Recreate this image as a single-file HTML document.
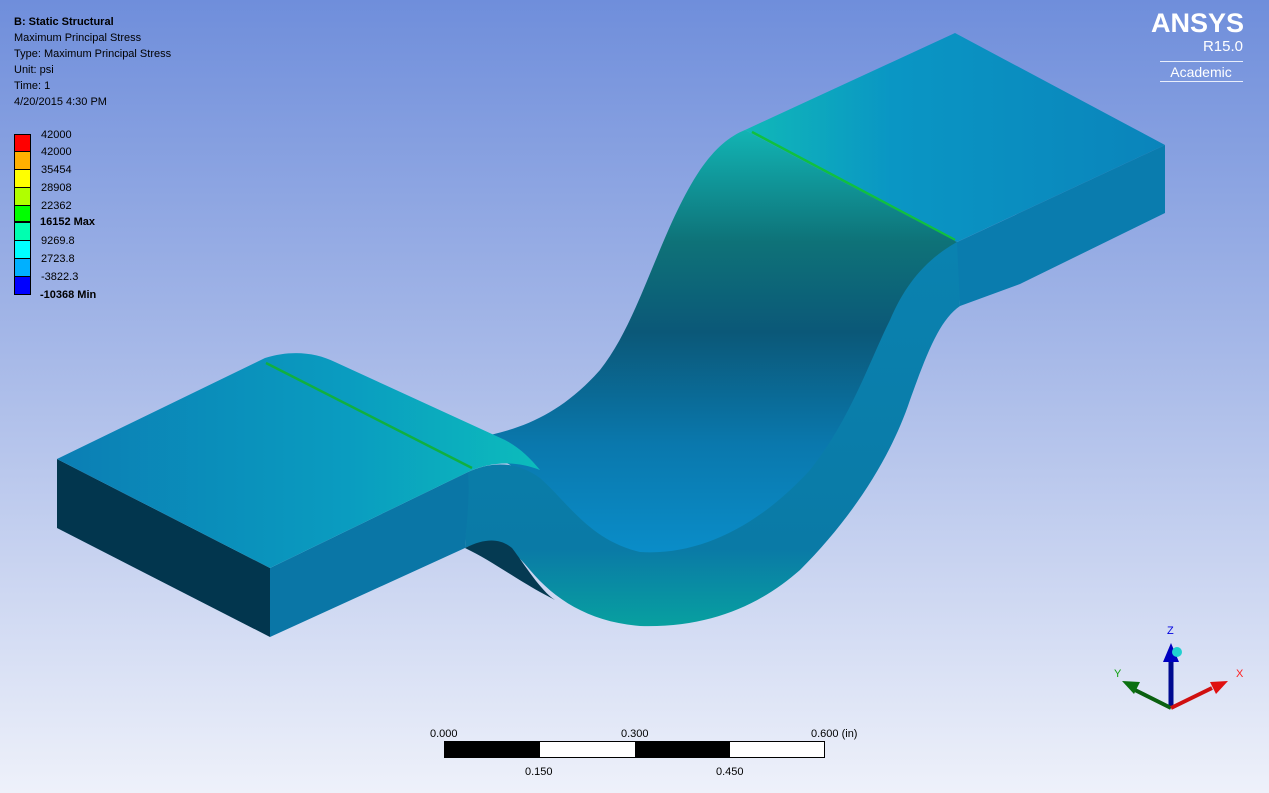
<!DOCTYPE html>
<html><head><meta charset="utf-8"><style>
html,body{margin:0;padding:0;width:1269px;height:793px;overflow:hidden;font-family:"Liberation Sans",sans-serif}
svg{display:block}
</style></head><body>
<svg width="1269" height="793" viewBox="0 0 1269 793">
<defs>
<linearGradient id="bg" x1="0" y1="0" x2="0" y2="1">
<stop offset="0" stop-color="#6f8edb"/><stop offset="0.45" stop-color="#a7b9e8"/><stop offset="1" stop-color="#eef1fa"/></linearGradient>
<linearGradient id="curve" x1="0" y1="0" x2="0" y2="1">
<stop offset="0" stop-color="#12b4b4"/><stop offset="0.25" stop-color="#0e7278"/><stop offset="0.45" stop-color="#0b5878"/><stop offset="0.7" stop-color="#0a78ad"/><stop offset="1" stop-color="#0a92cf"/></linearGradient>
<linearGradient id="band" x1="0" y1="0" x2="0" y2="1">
<stop offset="0" stop-color="#0a82b0"/><stop offset="0.8" stop-color="#0a7aa6"/><stop offset="1" stop-color="#08a0a0"/></linearGradient>
<linearGradient id="ltop" x1="0" y1="0" x2="1" y2="0">
<stop offset="0" stop-color="#0b7eb4"/><stop offset="0.6" stop-color="#0a9cc0"/><stop offset="1" stop-color="#0cbcbc"/></linearGradient>
<linearGradient id="rtop" x1="0" y1="0" x2="1" y2="0">
<stop offset="0" stop-color="#10b8b8"/><stop offset="0.35" stop-color="#0a96c4"/><stop offset="1" stop-color="#0a84bb"/></linearGradient>
</defs>
<rect width="1269" height="793" fill="url(#bg)"/>

<!-- right plate -->
<polygon points="745,130 955,33 1165,145 957,242" fill="url(#rtop)"/>
<polygon points="955,243 1165,145 1165,213 1020,284 960,306" fill="#0a7cae"/>
<line x1="752" y1="132" x2="955" y2="240" stroke="#10c040" stroke-width="2.5"/>

<!-- curved top surface -->
<path d="M475,438 C520,430 560,415 600,370 C640,320 660,230 700,170 C715,148 730,136 745,130 L957,242 C930,262 905,300 885,360 C860,440 810,530 740,565 C700,580 650,585 610,570 C570,545 540,480 505,462 Z" fill="url(#curve)"/>

<!-- front band -->
<path d="M468,472 C490,462 515,460 540,478 C570,505 590,540 640,552 C700,556 760,525 810,470 C850,420 870,360 890,320 C905,285 925,260 957,242 L960,306 C940,320 928,350 910,400 C890,460 850,520 800,570 C760,605 710,628 640,626 C590,622 555,600 530,570 C510,545 490,536 465,548 Z" fill="url(#band)"/>
<path d="M465,548 C485,538 500,538 512,548 C525,565 540,590 555,600 L540,592 C510,575 490,560 465,548 Z" fill="#053a52"/>

<!-- left plate -->
<polygon points="57,459 270,568 270,637 57,528" fill="#02364e"/>
<path d="M270,568 L468,472 C470,500 466,525 465,548 L270,637 Z" fill="#0a76a6"/>
<path d="M57,459 L265,358 C290,350 315,352 335,362 L505,440 C520,448 530,458 540,470 C515,460 490,462 468,472 L270,568 Z" fill="url(#ltop)"/>
<line x1="266" y1="363" x2="472" y2="468" stroke="#10b040" stroke-width="2.5"/>

<!-- title text -->
<g font-size="11" fill="#000">
<text x="14" y="25" font-weight="bold">B: Static Structural</text>
<text x="14" y="41">Maximum Principal Stress</text>
<text x="14" y="57">Type: Maximum Principal Stress</text>
<text x="14" y="73">Unit: psi</text>
<text x="14" y="89">Time: 1</text>
<text x="14" y="105">4/20/2015 4:30 PM</text>
</g>

<!-- legend -->
<g stroke="#000" stroke-width="1">
<rect x="14.5" y="134.5" width="16" height="17" fill="#ff0000"/>
<rect x="14.5" y="151.5" width="16" height="18" fill="#ffb000"/>
<rect x="14.5" y="169.5" width="16" height="18" fill="#ffff00"/>
<rect x="14.5" y="187.5" width="16" height="18" fill="#b0ff00"/>
<rect x="14.5" y="205.5" width="16" height="16" fill="#00ff00"/>
<rect x="14.5" y="221.5" width="16" height="1" fill="#000"/>
<rect x="14.5" y="222.5" width="16" height="18" fill="#00ffb0"/>
<rect x="14.5" y="240.5" width="16" height="18" fill="#00ffff"/>
<rect x="14.5" y="258.5" width="16" height="18" fill="#00b0ff"/>
<rect x="14.5" y="276.5" width="16" height="18" fill="#0000ff"/>
</g>
<g font-size="11" fill="#000">
<text x="41" y="138">42000</text>
<text x="41" y="155">42000</text>
<text x="41" y="173">35454</text>
<text x="41" y="191">28908</text>
<text x="41" y="209">22362</text>
<text x="40" y="225" font-weight="bold">16152 Max</text>
<text x="41" y="244">9269.8</text>
<text x="41" y="262">2723.8</text>
<text x="41" y="280">-3822.3</text>
<text x="40" y="298" font-weight="bold">-10368 Min</text>
</g>

<!-- logo -->
<g fill="#fff">
<text x="1244" y="32" font-size="27" font-weight="bold" text-anchor="end">ANSYS</text>
<text x="1243" y="51" font-size="15" text-anchor="end">R15.0</text>
<rect x="1160" y="61" width="83" height="1" fill="#e8eefc"/>
<text x="1201" y="77" font-size="14" text-anchor="middle">Academic</text>
<rect x="1160" y="81" width="83" height="1" fill="#e8eefc"/>
</g>

<!-- scale bar -->
<g>
<rect x="444.5" y="741.5" width="380" height="16" fill="#fff" stroke="#000"/>
<rect x="444" y="741" width="96" height="17" fill="#000"/>
<rect x="635" y="741" width="95" height="17" fill="#000"/>
<g font-size="11" fill="#000">
<text x="430" y="737">0.000</text>
<text x="621" y="737">0.300</text>
<text x="811" y="737">0.600 (in)</text>
<text x="525" y="775">0.150</text>
<text x="716" y="775">0.450</text>
</g>
</g>

<!-- triad -->
<g>
<line x1="1171" y1="708" x2="1171" y2="660" stroke="#000a90" stroke-width="5"/>
<polygon points="1171,643 1163,662 1179,662" fill="#0000c0"/>
<circle cx="1177" cy="652" r="5" fill="#20d0d0"/>
<line x1="1171" y1="708" x2="1135" y2="690" stroke="#0a6010" stroke-width="4"/>
<polygon points="1122,681 1140,682 1134,694" fill="#0a7010"/>
<line x1="1171" y1="708" x2="1212" y2="688" stroke="#d01010" stroke-width="4"/>
<polygon points="1228,681 1210,682 1216,694" fill="#e01010"/>
<text x="1167" y="634" font-size="11" fill="#0000e0">Z</text>
<text x="1114" y="677" font-size="11" fill="#10a010">Y</text>
<text x="1236" y="677" font-size="11" fill="#ff2020">X</text>
</g>
</svg>
</body></html>
